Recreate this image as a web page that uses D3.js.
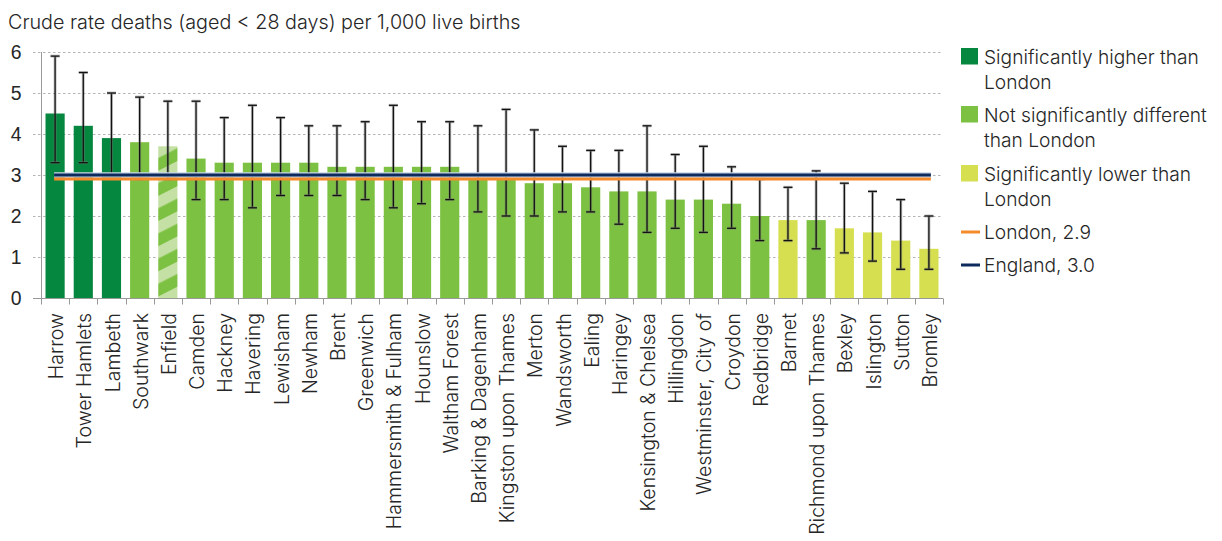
<!DOCTYPE html>
<html><head><meta charset="utf-8">
<script src="https://cdn.jsdelivr.net/npm/d3@7"></script>
<style>
body{margin:0;background:#fff;}
svg{display:block;font-family:Inter,"DejaVu Sans","Liberation Sans",sans-serif;font-weight:300;}
</style>
</head><body>
<svg id="chart" width="1222" height="541"></svg>
<script>
// ---------------- data ----------------
const chartTitle = "Crude rate deaths (aged < 28 days) per 1,000 live births";
const categories = ["Harrow","Tower Hamlets","Lambeth","Southwark","Enfield","Camden","Hackney","Havering","Lewisham","Newham","Brent","Greenwich","Hammersmith & Fulham","Hounslow","Waltham Forest","Barking & Dagenham","Kingston upon Thames","Merton","Wandsworth","Ealing","Haringey","Kensington & Chelsea","Hillingdon","Westminster, City of","Croydon","Redbridge","Barnet","Richmond upon Thames","Bexley","Islington","Sutton","Bromley"];
const values  = [4.5,4.2,3.9,3.8,3.7,3.4,3.3,3.3,3.3,3.3,3.2,3.2,3.2,3.2,3.2,2.9,2.9,2.8,2.8,2.7,2.6,2.6,2.4,2.4,2.3,2.0,1.9,1.9,1.7,1.6,1.4,1.2];
const lowerCI = [3.3,3.3,3.0,2.9,2.9,2.4,2.4,2.2,2.5,2.5,2.5,2.4,2.2,2.3,2.4,2.1,2.0,2.0,2.1,2.1,1.8,1.6,1.7,1.6,1.7,1.4,1.4,1.2,1.1,0.9,0.7,0.7];
const upperCI = [5.9,5.5,5.0,4.9,4.8,4.8,4.4,4.7,4.4,4.2,4.2,4.3,4.7,4.3,4.3,4.2,4.6,4.1,3.7,3.6,3.6,4.2,3.5,3.7,3.2,2.9,2.7,3.1,2.8,2.6,2.4,2.0];
const significance = ["higher","higher","higher","same","same","same","same","same","same","same","same","same","same","same","same","same","same","same","same","same","same","same","same","same","same","same","lower","same","lower","lower","lower","lower"];
const hatchedCategories = ["Enfield"];
const yTickValues = [0,1,2,3,4,5,6];
const londonRate = 2.9;
const englandRate = 3.0;
const legendGroups = ["higher","same","lower"];
const legendGroupLabels = [["Significantly higher than","London"],["Not significantly different","than London"],["Significantly lower than","London"]];
const legendLineLabels = ["London, 2.9","England, 3.0"];

// ---------------- styles ----------------
const groupColor = {higher:"#06873f", same:"#7dc142", lower:"#d5df50"};
const hatchLight = "#c4e0a4";
const londonColor = "#f58a2a";
const englandColor = "#0c2a5c";
const textColor = "#262626";

const rows = categories.map((c,i)=>({cat:c, v:values[i], lo:lowerCI[i], hi:upperCI[i], g:significance[i], hatch:hatchedCategories.includes(c)}));

const svg = d3.select("#chart");
const defs = svg.append("defs");
const pat = defs.append("pattern").attr("id","hatch").attr("patternUnits","userSpaceOnUse")
  .attr("width",10).attr("height",22.4).attr("patternTransform","rotate(-27)");
pat.append("rect").attr("width",10).attr("height",22.4).attr("fill",groupColor.same);
pat.append("rect").attr("width",10).attr("height",11).attr("fill",hatchLight);

const plotLeft = 41, plotRight = 943, plotTop = 52, plotBottom = 298;
const x = d3.scaleBand().domain(categories).range([plotLeft,plotRight]).paddingInner(0.32).paddingOuter(0.16);
const y = d3.scaleLinear().domain([0,6]).range([plotBottom,plotTop]);
const step = x.step();
const gap = (step - x.bandwidth())/2;

// helper to fit text width
function fitSize(text, target, base){
  const t = svg.append("text").attr("font-size",base).text(text);
  const w = t.node().getComputedTextLength(); t.remove();
  return base*target/w;
}

// title
const titleSize = fitSize(chartTitle, 513, 18);
svg.append("text").attr("x",8).attr("y",29).attr("font-size",titleSize).attr("fill",textColor).text(chartTitle);

// gridlines
const gridLast = x(categories[categories.length-1]) + x.bandwidth() + 4;
svg.append("g").selectAll("line").data(yTickValues.filter(d=>d>0)).join("line")
  .attr("x1",plotLeft-8).attr("x2",gridLast).attr("y1",d=>y(d)+0.5).attr("y2",d=>y(d)+0.5)
  .attr("stroke","#b4b4b4").attr("stroke-width",1).attr("stroke-dasharray","2.5,2.5");

// y axis
const tickSize = fitSize("0", 12, 18);
const yAxis = d3.axisLeft(y).tickValues(yTickValues).tickSize(8).tickPadding(10).tickFormat(d3.format("d"));
const yg = svg.append("g").attr("transform",`translate(${plotLeft+0.5},0)`).call(yAxis);
yg.select(".domain").attr("stroke","#999").attr("d",`M0,${plotTop}V${plotBottom}`);
yg.selectAll(".tick line").attr("stroke","none");
yg.selectAll(".tick text").attr("font-size",tickSize).attr("fill",textColor).attr("font-family",null).attr("x",-20);

// bars
svg.append("g").selectAll("rect").data(rows).join("rect")
  .attr("x",d=>x(d.cat)).attr("width",x.bandwidth())
  .attr("y",d=>y(d.v)).attr("height",d=>y(0)-y(d.v))
  .attr("fill",d=>d.hatch ? "url(#hatch)" : groupColor[d.g]);

// x axis
const xAxis = d3.axisBottom(x).tickSize(0).tickFormat("");
const xg = svg.append("g").attr("transform",`translate(0,${plotBottom+0.5})`).call(xAxis);
xg.select(".domain").attr("stroke","#999").attr("d",`M${plotLeft-8},0H${plotRight}`);
const boundaries = categories.map(c=>x(c)-gap).concat([plotRight]);
xg.append("g").selectAll("line").data(boundaries).join("line")
  .attr("x1",d=>Math.round(d)+0.5).attr("x2",d=>Math.round(d)+0.5).attr("y1",0).attr("y2",6)
  .attr("stroke","#999");

// x labels
const labelSize = fitSize("Richmond upon Thames", 222, 18);
svg.append("g").selectAll("text").data(categories).join("text")
  .attr("transform",d=>`translate(${x(d)+x.bandwidth()/2+1},313) rotate(-90)`)
  .attr("text-anchor","end").attr("dy","0.36em").attr("font-size",labelSize).attr("fill",textColor)
  .text(d=>d);

// error bars
const eb = svg.append("g").selectAll("g").data(rows).join("g")
  .attr("transform",d=>`translate(${x(d.cat)+x.bandwidth()/2},0)`);
eb.append("line").attr("y1",d=>y(d.hi)).attr("y2",d=>y(d.lo)).attr("stroke","#777").attr("stroke-opacity",0.45).attr("stroke-width",3);
eb.append("line").attr("y1",d=>y(d.hi)).attr("y2",d=>y(d.lo)).attr("stroke","#111").attr("stroke-width",1.3);
[d=>y(d.hi), d=>y(d.lo)].forEach(f=>{
  eb.append("line").attr("x1",-4.5).attr("x2",4.5).attr("y1",f).attr("y2",f).attr("stroke","#777").attr("stroke-opacity",0.45).attr("stroke-width",3);
  eb.append("line").attr("x1",-4.5).attr("x2",4.5).attr("y1",f).attr("y2",f).attr("stroke","#111").attr("stroke-width",1.3);
});

// reference lines
const lx1 = x(categories[0]) + x.bandwidth()/2 - 1;
const lx2 = x(categories[categories.length-1]) + x.bandwidth()/2 + 2;
svg.append("line").attr("x1",lx1).attr("x2",lx2).attr("y1",y(englandRate)).attr("y2",y(englandRate))
  .attr("stroke","#c9d5e8").attr("stroke-width",5.5);
svg.append("line").attr("x1",lx1).attr("x2",lx2).attr("y1",y(londonRate)).attr("y2",y(londonRate))
  .attr("stroke",londonColor).attr("stroke-width",3);
svg.append("line").attr("x1",lx1).attr("x2",lx2).attr("y1",y(englandRate)).attr("y2",y(englandRate))
  .attr("stroke",englandColor).attr("stroke-width",3);

// legend
const legSize = fitSize("Not significantly different", 223, 18);
const lg = svg.append("g");
const groupTops = [48, 106, 165];
legendGroups.forEach((g,i)=>{
  lg.append("rect").attr("x",961).attr("y",groupTops[i]).attr("width",17).attr("height",16.5).attr("fill",groupColor[g]);
  legendGroupLabels[i].forEach((ln,j)=>{
    lg.append("text").attr("x",984).attr("y",groupTops[i]+15.5+j*25.5).attr("font-size",legSize).attr("fill",textColor).text(ln);
  });
});
const lineYs = [232, 265];
[londonColor, englandColor].forEach((c,i)=>{
  lg.append("line").attr("x1",961).attr("x2",980).attr("y1",lineYs[i]).attr("y2",lineYs[i]).attr("stroke",c).attr("stroke-width",3);
  lg.append("text").attr("x",984).attr("y",lineYs[i]+7).attr("font-size",legSize).attr("fill",textColor).text(legendLineLabels[i]);
});
</script>
</body></html>
